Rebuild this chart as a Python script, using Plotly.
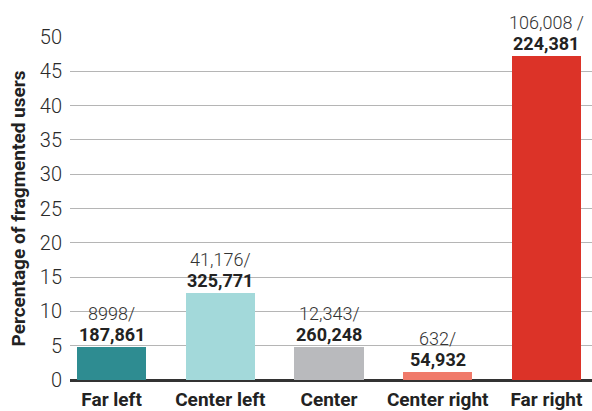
import plotly.graph_objects as go

categories = ["Far left", "Center left", "Center", "Center right", "Far right"]
fragmented = [8998, 41176, 12343, 632, 106008]
totals = [187861, 325771, 260248, 54932, 224381]
frag_labels = ["8998/", "41,176/", "12,343/", "632/", "106,008 /"]
total_labels = ["187,861", "325,771", "260,248", "54,932", "224,381"]
colors = ["#2e8c91", "#a3d9da", "#b9babd", "#f07a6a", "#dc3328"]
y_ticks = [0, 5, 10, 15, 20, 25, 30, 35, 40, 45, 50]

pct = [f / t * 100 for f, t in zip(fragmented, totals)]
xpos = list(range(len(categories)))

FONT = "Roboto, Arial, sans-serif"

fig = go.Figure()
fig.add_trace(go.Bar(
    x=xpos, y=pct, marker=dict(color=colors, line=dict(width=0)),
    width=0.636, cliponaxis=False, hoverinfo="skip",
))

for i in xpos:
    fig.add_annotation(
        x=i, y=pct[i], xref="x", yref="y", yanchor="bottom", xanchor="center",
        text=f"<b>{total_labels[i]}</b>",
        showarrow=False, font=dict(family=FONT, size=18, color="#222"),
        yshift=0,
    )
    fig.add_annotation(
        x=i, y=pct[i], xref="x", yref="y", yanchor="bottom", xanchor="center",
        text=frag_labels[i],
        showarrow=False, font=dict(family=FONT, size=18, color="#333", weight=300),
        yshift=21,
    )

fig.update_layout(
    width=592, height=411,
    margin=dict(l=70, r=0, t=37, b=31),
    paper_bgcolor="white", plot_bgcolor="white",
    showlegend=False,
    font=dict(family=FONT, color="#333"),
    bargap=0,
)
fig.update_xaxes(
    range=[-0.3825, 4.419], tickmode="array", tickvals=xpos, ticktext=[f"<b>{c}</b>" for c in categories],
    tickfont=dict(family=FONT, size=19, color="#222"), showgrid=False, zeroline=False,
    ticks="", showline=False, ticklabelstandoff=6,
)
fig.update_yaxes(
    range=[0, 50], tickmode="array", tickvals=y_ticks,
    tickfont=dict(family=FONT, size=20, color="#2a2a2a", weight=300),
    showgrid=True, gridcolor="#b5b5b5", gridwidth=1.2,
    zeroline=True, zerolinecolor="#333", zerolinewidth=2.5,
    ticks="", ticklabelstandoff=7,
    title=dict(text="<b>Percentage of fragmented users</b>", font=dict(family=FONT, size=19, color="#222"), standoff=9),
)
fig.write_html("out.html", config={"displayModeBar": False},
               post_script="document.body.style.margin='0';document.body.style.overflow='hidden';")
